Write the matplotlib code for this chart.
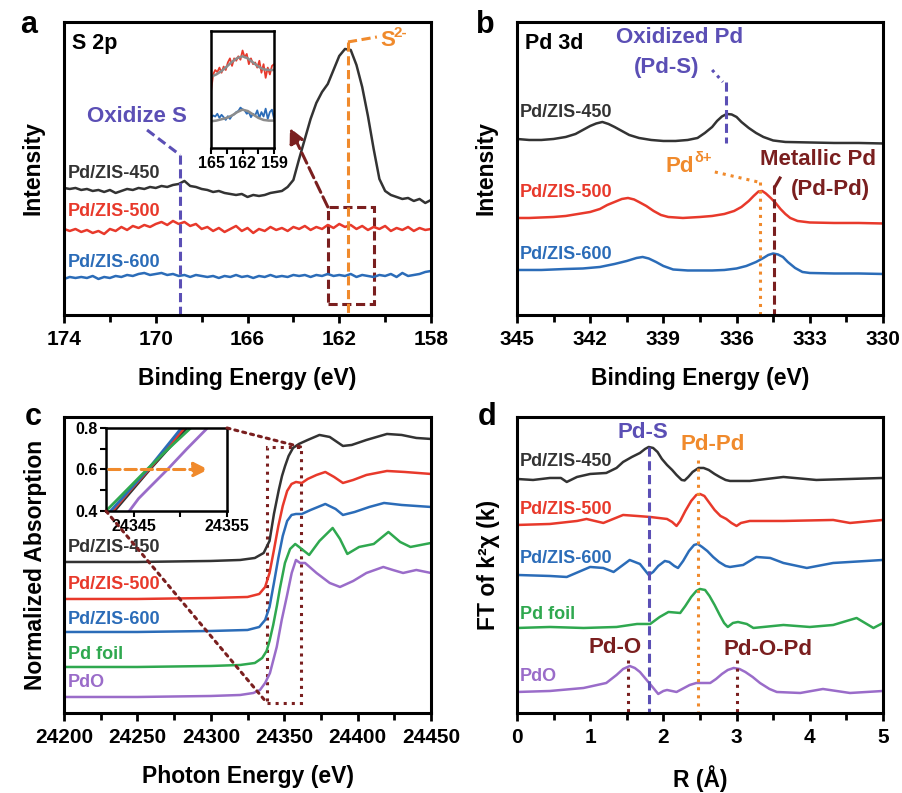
import numpy as np
import matplotlib.pyplot as plt
from matplotlib.patches import Rectangle, ConnectionPatch
from matplotlib.ticker import FixedLocator

plt.rcParams['font.family'] = ['Liberation Sans', 'DejaVu Sans']
plt.rcParams['font.weight'] = 'bold'
plt.rcParams['axes.labelweight'] = 'bold'

# colours
C_BLACK = '#333333'
C_RED = '#E8392B'
C_BLUE = '#2B6CB8'
C_GREEN = '#2FA84F'
C_PURPLE = '#9A6CC9'
C_SLATE = '#5B4FB5'
C_ORANGE = '#F08A2C'
C_DARKRED = '#7A1F1F'
C_FIT = '#8C8C8C'

# ---------------- (a) S 2p XPS ----------------
a_be = np.linspace(174, 158, 65)
a_450 = [127, 126, 127, 125, 126, 124, 125, 123, 125, 122, 124, 126, 125, 127, 126, 128,
         127, 129, 128, 130, 131, 134, 129, 128, 126, 125, 123, 124, 122, 121, 120, 121,
         118, 120, 119, 120, 122, 123, 124, 128, 135, 156, 176, 196, 212, 223, 231, 245,
         259, 266, 265, 250, 228, 199, 166, 136, 124, 120, 118, 116, 117, 114, 116, 112, 115]
a_500 = [86, 84, 86, 83, 85, 82, 84, 81, 86, 84, 88, 85, 89, 87, 90, 88,
         91, 93, 90, 94, 91, 93, 89, 91, 86, 88, 84, 87, 83, 86, 89, 84,
         87, 82, 86, 84, 88, 85, 87, 84, 88, 86, 89, 85, 88, 86, 90, 87,
         91, 88, 90, 86, 89, 85, 88, 86, 89, 84, 87, 85, 88, 84, 87, 85, 86]
a_600 = [36, 38, 37, 38, 37, 39, 36, 38, 37, 39, 38, 40, 39, 41, 42, 40,
         41, 42, 40, 41, 39, 40, 38, 40, 39, 38, 39, 37, 39, 38, 40, 38,
         39, 37, 39, 38, 40, 38, 39, 38, 40, 39, 40, 38, 40, 39, 41, 39,
         40, 39, 41, 38, 40, 39, 38, 40, 39, 41, 38, 42, 39, 40, 41, 43, 44]
a_ticks = [174, 170, 166, 162, 158]

# inset of (a): zoom on 165-159 eV
ain_be = np.linspace(165, 159, 31)
ain_500 = [165, 215, 228, 222, 235, 220, 238, 228, 250, 262, 240, 262, 255, 268, 258, 285,
           265, 275, 245, 262, 245, 250, 235, 255, 220, 245, 205, 235, 215, 240, 245]
ain_600 = [88, 95, 92, 100, 88, 97, 90, 82, 93, 85, 95, 98, 105, 108, 118, 113,
           110, 100, 105, 90, 100, 95, 110, 88, 105, 92, 115, 85, 105, 112, 85]
ain_fit_be = [165, 164.5, 164, 163.5, 163, 162.5, 162, 161.5, 161, 160.5, 160, 159.5, 159]
ain_fit_500 = [208, 215, 225, 238, 252, 263, 268, 262, 250, 238, 230, 228, 228]
ain_fit_600 = [78, 80, 84, 88, 95, 105, 112, 108, 98, 88, 82, 80, 80]

# ---------------- (b) Pd 3d XPS ----------------
b_be_450 = [345.0, 344.5, 344.0, 343.5, 343.0, 342.6, 342.3, 342.0, 341.75, 341.5, 341.25,
            341.0, 340.7, 340.4, 340.0, 339.5, 339.0, 338.5, 338.0, 337.6, 337.3, 337.0,
            336.8, 336.6, 336.4, 336.2, 336.0, 335.8, 335.5, 335.2, 334.9, 334.5, 334.0,
            333.0, 332.0, 331.0, 330.0]
b_450 = [176, 175, 175, 176, 178, 181, 185, 189, 191.5, 193, 191,
         188, 184, 180, 177, 175, 174, 174, 175, 177, 182, 188,
         194, 198.5, 201, 200.5, 198, 193, 187, 182, 178, 174.5, 173,
         172.5, 172, 172, 171.5]
b_be_500 = [345.0, 344.5, 344.0, 343.5, 343.0, 342.5, 342.0, 341.6, 341.3, 341.0, 340.7,
            340.45, 340.2, 340.0, 339.7, 339.4, 339.1, 338.8, 338.2, 337.5, 337.0, 336.5,
            336.1, 335.8, 335.5, 335.3, 335.1, 334.95, 334.8, 334.6, 334.4, 334.2, 334.0,
            333.8, 333.5, 333.0, 332.0, 331.0, 330.0]
b_500 = [97, 97, 97.5, 98, 99, 101, 103, 106, 110, 113, 116,
         117, 115.5, 113, 109, 104, 100, 98, 97, 98, 99, 101,
         104, 108, 114, 119, 123.5, 124, 121.5, 117, 112, 106, 101,
         97, 94, 92.5, 92, 92, 91.5]
b_be_600 = [345.0, 344.0, 343.0, 342.3, 341.6, 341.0, 340.5, 340.1, 339.85, 339.6, 339.3,
            339.0, 338.6, 338.0, 337.0, 336.5, 336.0, 335.6, 335.2, 334.9, 334.7, 334.5,
            334.3, 334.1, 333.9, 333.6, 333.3, 333.0, 332.0, 331.0, 330.0]
b_600 = [45, 45, 46, 46.5, 48, 51, 54, 57, 58, 56.5, 53,
         49, 45.5, 44.5, 44.5, 45, 46.5, 49, 53, 57, 60, 61.5,
         60.5, 58, 53, 47, 43, 42, 41.5, 41.5, 41]

# ---------------- (c) XANES ----------------
c_e_450 = [24200, 24250, 24300, 24320, 24330, 24336, 24340, 24343, 24346.3, 24348.5, 24350.6,
           24353, 24356, 24360, 24366, 24374, 24381, 24390, 24396, 24406, 24420, 24430, 24440, 24450]
c_450 = [151, 151, 152, 153, 155, 160, 172, 199, 223, 237, 247,
         257, 265, 269, 273, 278, 276, 267, 268, 273, 279, 278, 275, 274]
c_e_500 = [24200, 24250, 24300, 24325, 24333, 24337, 24340, 24343, 24346, 24349, 24352,
           24355, 24358, 24362, 24366, 24372, 24378, 24384, 24390, 24397, 24406, 24420, 24432, 24450]
c_500 = [114, 114, 115, 116, 119, 126, 140, 163, 187, 207, 222,
         229, 231, 230, 234, 238, 241, 236, 230, 233, 238, 242, 241, 239]
c_e_600 = [24200, 24250, 24300, 24325, 24333, 24337, 24340, 24343, 24346, 24349, 24352,
           24355, 24358, 24362, 24368, 24378, 24385, 24390, 24398, 24408, 24418, 24430, 24450]
c_600 = [81, 81, 82, 83, 86, 93, 106, 130, 155, 177, 192,
         198, 199, 199, 203, 209, 204, 198, 201, 206, 210, 208, 206]
c_e_foil = [24200, 24250, 24300, 24320, 24330, 24335, 24338, 24340, 24342.5, 24345, 24347,
            24350.5, 24354, 24357.5, 24361, 24367, 24374, 24383, 24388, 24393, 24401, 24411,
            24421, 24429, 24436, 24450]
c_foil = [46, 46, 47, 48, 50, 55, 62, 72, 88, 107, 124,
          150, 164, 169, 165, 158, 172, 185, 174, 159, 166, 169,
          181, 171, 166, 170]
c_e_pdo = [24200, 24250, 24300, 24320, 24329, 24333.5, 24337, 24340.3, 24344.9, 24348.3, 24351.7,
           24355.1, 24358, 24360.8, 24364.2, 24372, 24381, 24388, 24397, 24406, 24417.5, 24424,
           24431, 24440, 24450]
c_pdo = [16, 16, 17, 18, 20, 23, 30, 40, 66, 93, 116,
         140, 153, 150, 150, 140, 130, 126, 132, 140, 146, 143,
         140, 143, 140]

# inset of (c): normalized edge, 0.4-0.8
cin_e_450 = [24342.9, 24344.8, 24346.7, 24348.7, 24350.7]
cin_450 = [0.4, 0.5, 0.6, 0.7, 0.8]
cin_e_500 = [24342.7, 24344.6, 24346.6, 24348.5, 24350.4]
cin_500 = [0.4, 0.5, 0.6, 0.7, 0.8]
cin_e_600 = [24342.5, 24344.5, 24346.5, 24348.3, 24350.1]
cin_600 = [0.4, 0.5, 0.6, 0.7, 0.8]
cin_e_foil = [24342.0, 24344.2, 24346.4, 24348.7, 24351.1]
cin_foil = [0.4, 0.5, 0.6, 0.7, 0.8]
cin_e_pdo = [24344.5, 24345.5, 24346.6, 24348.6, 24350.7, 24352.9]
cin_pdo = [0.4, 0.46, 0.51, 0.6, 0.7, 0.8]

# ---------------- (d) FT-EXAFS ----------------
d_r_450 = [0.0, 0.22, 0.45, 0.6, 0.68, 0.82, 1.0, 1.22, 1.36, 1.45, 1.57, 1.68, 1.75, 1.80,
           1.86, 1.92, 1.98, 2.05, 2.12, 2.18, 2.25, 2.29, 2.34, 2.40, 2.48, 2.55, 2.62,
           2.70, 2.77, 2.85, 2.91, 3.18, 3.64, 4.09, 4.55, 5.0]
d_450 = [234, 233, 235, 235, 231, 236, 239, 240, 245, 251, 256, 260, 264, 266,
         265, 261, 254, 248, 243, 238, 233, 232.5, 236, 241, 245, 245, 243,
         239, 236, 233, 232, 232, 236, 233, 234, 235]
d_r_500 = [0.0, 0.45, 0.82, 0.95, 1.18, 1.45, 1.64, 1.82, 2.05, 2.12, 2.18, 2.23, 2.30, 2.38,
           2.45, 2.50, 2.56, 2.62, 2.70, 2.78, 2.86, 2.93, 3.0, 3.06, 3.18, 3.64, 4.32, 4.55, 5.0]
d_500 = [188, 189, 192, 194, 190, 198, 197, 196, 194, 191, 187, 192, 202, 212,
         218, 219, 217, 211, 203, 197, 194, 190, 187, 190, 192, 192, 193, 190, 193]
d_r_600 = [0.0, 0.45, 0.68, 1.0, 1.18, 1.32, 1.54, 1.68, 1.80, 1.86, 1.93, 2.02, 2.08, 2.15,
           2.20, 2.27, 2.35, 2.42, 2.47, 2.53, 2.60, 2.68, 2.76, 2.85, 2.91, 3.09, 3.27,
           3.46, 3.64, 3.96, 4.32, 5.0]
d_600 = [138, 137, 136, 146, 145, 141, 153, 149, 138, 141, 147, 152, 151, 147,
         145, 152, 162, 168, 169, 166, 162, 156, 151, 147, 146, 148, 156,
         155, 150, 145, 150, 153]
d_r_foil = [0.0, 0.45, 0.91, 1.36, 1.64, 1.82, 1.95, 2.07, 2.23, 2.30, 2.38, 2.45, 2.50,
            2.57, 2.63, 2.70, 2.77, 2.83, 2.88, 2.95, 3.02, 3.14, 3.23, 3.64, 4.0, 4.32,
            4.64, 4.87, 5.0]
d_foil = [85, 86, 85, 86, 89, 89, 96, 101, 100, 107, 116, 122, 124,
          123, 117, 108, 98, 90, 86, 90, 91, 89, 85, 88, 86, 88,
          95, 85, 90]
d_r_pdo = [0.0, 0.45, 0.91, 1.22, 1.36, 1.45, 1.54, 1.61, 1.68, 1.76, 1.84, 1.93, 2.0,
           2.05, 2.18, 2.36, 2.45, 2.64, 2.72, 2.80, 2.88, 2.96, 3.04, 3.12, 3.22, 3.32,
           3.45, 3.55, 3.87, 4.18, 4.55, 5.0]
d_pdo = [21, 22, 25, 30, 38, 44, 47, 45, 41, 34, 27, 19, 22,
         23, 21, 28, 30, 30, 34, 39, 43, 45, 44, 41, 36, 30,
         24, 21, 20, 24, 20, 22]

LW = 1.8
TXT = 13
ANN = 16


def style(ax, lo, hi, major, minor, xlabel):
    ax.set_xlim(lo, hi)
    ax.set_yticks([])
    ax.xaxis.set_major_locator(FixedLocator(major))
    ax.xaxis.set_minor_locator(FixedLocator(minor))
    ax.tick_params(axis='x', which='major', direction='out', length=6, width=2,
                   labelsize=15, pad=5)
    ax.tick_params(axis='x', which='minor', direction='out', length=5, width=2)
    for s in ax.spines.values():
        s.set_linewidth(2.2)
    ax.set_xlabel(xlabel, fontsize=16.5)
    ax.xaxis.set_label_coords(0.5, -0.177)


fig = plt.figure(figsize=(9.03, 7.93), dpi=100)
axa = fig.add_axes([0.0709, 0.6028, 0.4064, 0.3695])
axb = fig.add_axes([0.5725, 0.6028, 0.4053, 0.3695])
axc = fig.add_axes([0.0709, 0.1009, 0.4064, 0.3733])
axd = fig.add_axes([0.5725, 0.1009, 0.4053, 0.3733])

# ---- a ----
ax = axa
ax.plot(a_be, a_450, color=C_BLACK, lw=LW)
ax.plot(a_be, a_500, color=C_RED, lw=LW)
ax.plot(a_be, a_600, color=C_BLUE, lw=LW)
style(ax, 174, 158, a_ticks, [172, 168, 164, 160], 'Binding Energy (eV)')
ax.set_ylim(0, 293)
ax.set_ylabel('Intensity', fontsize=16.5)
ax.yaxis.set_label_coords(-0.052, 0.5)
ax.text(0.022, 0.928, 'S 2p', transform=ax.transAxes, fontsize=15.5, va='center')
ax.text(173.83, 141, 'Pd/ZIS-450', color=C_BLACK, fontsize=TXT, va='center')
ax.text(173.83, 103, 'Pd/ZIS-500', color=C_RED, fontsize=TXT, va='center')
ax.text(173.83, 52, 'Pd/ZIS-600', color=C_BLUE, fontsize=TXT, va='center')
ax.text(170.82, 198, 'Oxidize S', color=C_SLATE, fontsize=ANN, ha='center', va='center')
ax.plot([170.38, 168.94], [185, 160], color=C_SLATE, lw=2.2, ls=(0, (3, 1.5)))
ax.plot([168.94, 168.94], [160, 0], color=C_SLATE, lw=2.2, ls=(0, (3, 1.5)))
ax.plot([161.62, 161.62], [273, 0], color=C_ORANGE, lw=2.2, ls=(0, (3, 1.5)), clip_on=False)
ax.plot([161.62, 160.36], [273, 278], color=C_ORANGE, lw=2.2, ls=(0, (3, 1.5)))
ax.text(160.2, 274, 'S', color=C_ORANGE, fontsize=ANN, ha='left', va='center')
ax.text(159.62, 282, '2-', color=C_ORANGE, fontsize=11, ha='left', va='center')
ax.add_patch(Rectangle((162.5, 11), -2.0, 97, fill=False, ec=C_DARKRED, lw=2.2,
                       ls=(0, (3, 1.5))))
ax.annotate('', xy=(164.15, 187), xytext=(162.5, 108),
            arrowprops=dict(arrowstyle='-|>', color=C_DARKRED, lw=2.2, ls='--',
                            mutation_scale=22, shrinkA=0, shrinkB=0))

ina = fig.add_axes([0.2337, 0.8134, 0.0698, 0.1475])
ina.plot(ain_be, ain_500, color=C_RED, lw=1.3)
ina.plot(ain_fit_be, ain_fit_500, color=C_FIT, lw=1.8)
ina.plot(ain_be, ain_600, color=C_BLUE, lw=1.3)
ina.plot(ain_fit_be, ain_fit_600, color=C_FIT, lw=1.8)
ina.set_xlim(165, 159)
ina.set_ylim(0, 342)
ina.set_yticks([])
ina.set_xticks([165, 162, 159])
ina.xaxis.set_minor_locator(FixedLocator([163.5, 160.5]))
ina.tick_params(axis='x', which='both', direction='out', length=4, width=1.5,
                labelsize=11.5, pad=2)
for s in ina.spines.values():
    s.set_linewidth(1.8)

# ---- b ----
ax = axb
ax.plot(b_be_450, b_450, color=C_BLACK, lw=LW)
ax.plot(b_be_500, b_500, color=C_RED, lw=LW)
ax.plot(b_be_600, b_600, color=C_BLUE, lw=LW)
style(ax, 345, 330, [345, 342, 339, 336, 333, 330],
      [343.5, 340.5, 337.5, 334.5, 331.5], 'Binding Energy (eV)')
ax.set_ylim(0, 293)
ax.set_ylabel('Intensity', fontsize=16.5)
ax.yaxis.set_label_coords(-0.052, 0.5)
ax.text(0.022, 0.928, 'Pd 3d', transform=ax.transAxes, fontsize=15.5, va='center')
ax.text(344.88, 202, 'Pd/ZIS-450', color=C_BLACK, fontsize=TXT, va='center')
ax.text(344.88, 122, 'Pd/ZIS-500', color=C_RED, fontsize=TXT, va='center')
ax.text(344.88, 60, 'Pd/ZIS-600', color=C_BLUE, fontsize=TXT, va='center')
ax.text(338.32, 277, 'Oxidized Pd', color=C_SLATE, fontsize=ANN, ha='center', va='center')
ax.text(338.85, 247, '(Pd-S)', color=C_SLATE, fontsize=ANN, ha='center', va='center')
ax.plot([337.0, 336.56], [245, 233], color=C_SLATE, lw=2.2, ls=(0, (1, 1.5)))
ax.plot([336.43, 336.43], [233, 172], color=C_SLATE, lw=2.2, ls=(0, (3, 1.5)))
ax.text(338.9, 148, 'Pd', color=C_ORANGE, fontsize=ANN, ha='left', va='center')
ax.text(337.74, 157, 'δ+', color=C_ORANGE, fontsize=10.5, ha='left', va='center')
ax.plot([336.89, 335.12], [143, 133], color=C_ORANGE, lw=2.2, ls=':')
ax.plot([335.04, 335.04], [133, 0], color=C_ORANGE, lw=2.2, ls=':')
ax.text(332.66, 155, 'Metallic Pd', color=C_DARKRED, fontsize=ANN, ha='center', va='center')
ax.text(332.17, 125, '(Pd-Pd)', color=C_DARKRED, fontsize=ANN, ha='center', va='center')
ax.plot([334.43, 334.22], [128, 137], color=C_DARKRED, lw=2.2)
ax.plot([334.47, 334.47], [130, 0], color=C_DARKRED, lw=2.2, ls=(0, (3, 1.5)))

# ---- c ----
ax = axc
ax.plot(c_e_450, c_450, color=C_BLACK, lw=LW)
ax.plot(c_e_500, c_500, color=C_RED, lw=LW)
ax.plot(c_e_600, c_600, color=C_BLUE, lw=LW)
ax.plot(c_e_foil, c_foil, color=C_GREEN, lw=LW)
ax.plot(c_e_pdo, c_pdo, color=C_PURPLE, lw=LW)
style(ax, 24200, 24450, [24200, 24250, 24300, 24350, 24400, 24450],
      [24225, 24275, 24325, 24375, 24425], 'Photon Energy (eV)')
ax.xaxis.set_label_coords(0.5, -0.176)
ax.set_ylim(0, 296)
ax.set_ylabel('Normalized Absorption', fontsize=16.5)
ax.yaxis.set_label_coords(-0.046, 0.5)
ax.text(24202.7, 165, 'Pd/ZIS-450', color=C_BLACK, fontsize=TXT, va='center')
ax.text(24202.7, 128, 'Pd/ZIS-500', color=C_RED, fontsize=TXT, va='center')
ax.text(24202.7, 93, 'Pd/ZIS-600', color=C_BLUE, fontsize=TXT, va='center')
ax.text(24202.7, 58, 'Pd foil', color=C_GREEN, fontsize=TXT, va='center')
ax.text(24202.7, 30, 'PdO', color=C_PURPLE, fontsize=TXT, va='center')
ax.add_patch(Rectangle((24338.3, 10), 23.1, 256, fill=False, ec=C_DARKRED, lw=2.2, ls=':'))

inc = fig.add_axes([0.1174, 0.3556, 0.134, 0.1047])
inc.plot(cin_e_450, cin_450, color=C_BLACK, lw=2)
inc.plot(cin_e_500, cin_500, color=C_RED, lw=2)
inc.plot(cin_e_600, cin_600, color=C_BLUE, lw=2)
inc.plot(cin_e_foil, cin_foil, color=C_GREEN, lw=2)
inc.plot(cin_e_pdo, cin_pdo, color=C_PURPLE, lw=2)
inc.annotate('', xy=(24353.0, 0.6), xytext=(24342.3, 0.6),
             arrowprops=dict(arrowstyle='-|>', color=C_ORANGE, lw=2.2, ls='--',
                             mutation_scale=22, shrinkA=0, shrinkB=0))
inc.set_xlim(24342, 24355)
inc.set_ylim(0.4, 0.8)
inc.set_xticks([24345, 24355])
inc.xaxis.set_minor_locator(FixedLocator([24350]))
inc.set_yticks([0.4, 0.6, 0.8])
inc.yaxis.set_minor_locator(FixedLocator([0.5, 0.7]))
inc.tick_params(which='both', direction='out', length=4, width=1.5, labelsize=11.5, pad=2)
for s in inc.spines.values():
    s.set_linewidth(1.8)
for xa, xb in [((1, 1), (24361.4, 266)), ((0, 0), (24338.3, 10))]:
    con = ConnectionPatch(xyA=xa, coordsA=inc.transAxes, xyB=xb, coordsB=axc.transData,
                          color=C_DARKRED, lw=2.2, ls=':')
    fig.add_artist(con)

# ---- d ----
ax = axd
ax.plot(d_r_450, d_450, color=C_BLACK, lw=LW)
ax.plot(d_r_500, d_500, color=C_RED, lw=LW)
ax.plot(d_r_600, d_600, color=C_BLUE, lw=LW)
ax.plot(d_r_foil, d_foil, color=C_GREEN, lw=LW)
ax.plot(d_r_pdo, d_pdo, color=C_PURPLE, lw=LW)
style(ax, 0, 5, [0, 1, 2, 3, 4, 5], [0.5, 1.5, 2.5, 3.5, 4.5], 'R (Å)')
ax.xaxis.set_label_coords(0.5, -0.176)
ax.set_ylim(0, 296)
ax.set_ylabel('FT of k²χ (k)', fontsize=16.5)
ax.yaxis.set_label_coords(-0.046, 0.5)
ax.text(0.04, 251, 'Pd/ZIS-450', color=C_BLACK, fontsize=TXT, va='center')
ax.text(0.04, 203, 'Pd/ZIS-500', color=C_RED, fontsize=TXT, va='center')
ax.text(0.04, 154, 'Pd/ZIS-600', color=C_BLUE, fontsize=TXT, va='center')
ax.text(0.04, 98, 'Pd foil', color=C_GREEN, fontsize=TXT, va='center')
ax.text(0.04, 36, 'PdO', color=C_PURPLE, fontsize=TXT, va='center')
ax.text(1.72, 280, 'Pd-S', color=C_SLATE, fontsize=ANN, ha='center', va='center')
ax.plot([1.80, 1.80], [266, 0], color=C_SLATE, lw=2.2, ls=(0, (3, 1.5)))
ax.text(2.68, 268, 'Pd-Pd', color=C_ORANGE, fontsize=ANN, ha='center', va='center')
ax.plot([2.48, 2.48], [253, 0], color=C_ORANGE, lw=2.2, ls=':')
ax.text(1.34, 65, 'Pd-O', color=C_DARKRED, fontsize=ANN, ha='center', va='center')
ax.plot([1.52, 1.52], [53, 0], color=C_DARKRED, lw=2.2, ls=':')
ax.text(3.43, 63, 'Pd-O-Pd', color=C_DARKRED, fontsize=ANN, ha='center', va='center')
ax.plot([3.0, 3.0], [53, 0], color=C_DARKRED, lw=2.2, ls=':')

# panel letters
for lab, x, y in [('a', 29, 25), ('b', 485, 25), ('c', 33, 417), ('d', 487, 417)]:
    fig.text(x / 903, 1 - y / 793, lab, fontsize=22, ha='center', va='center')

fig.savefig('out.png', dpi=100)
